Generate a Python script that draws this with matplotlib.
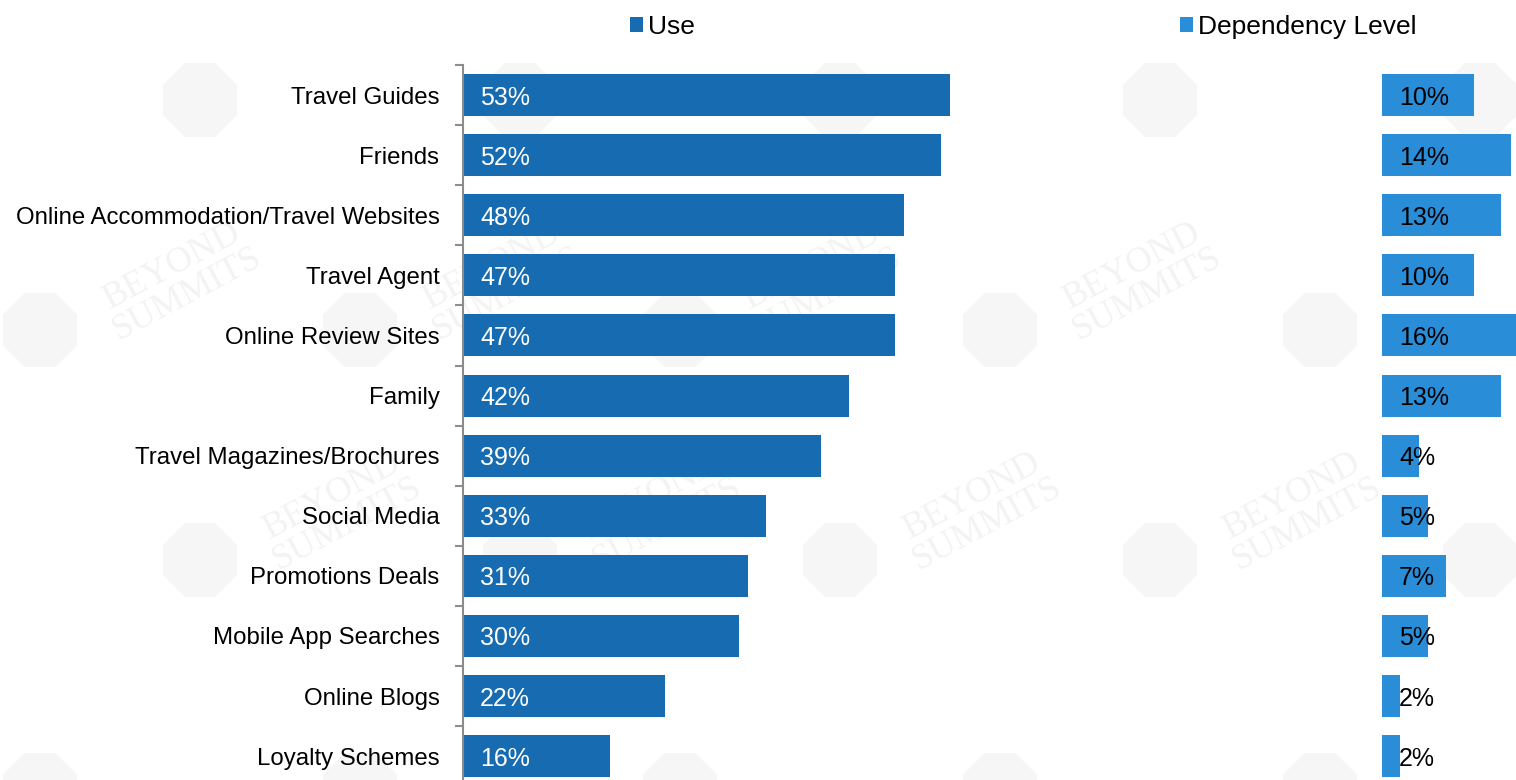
import matplotlib
matplotlib.use("Agg")
import matplotlib.pyplot as plt
from matplotlib.patches import Patch, RegularPolygon
from matplotlib.ticker import FixedLocator
import numpy as np

plt.rcParams['font.family'] = ['Liberation Sans', 'DejaVu Sans']

categories = [
    "Travel Guides", "Friends", "Online Accommodation/Travel Websites",
    "Travel Agent", "Online Review Sites", "Family",
    "Travel Magazines/Brochures", "Social Media", "Promotions Deals",
    "Mobile App Searches", "Online Blogs", "Loyalty Schemes",
]
use_pct = [53, 52, 48, 47, 47, 42, 39, 33, 31, 30, 22, 16]
dependency_pct = [10, 14, 13, 10, 16, 13, 4, 5, 7, 5, 2, 2]
series_names = ["Use", "Dependency Level"]

USE_COLOR = "#176BB1"
DEP_COLOR = "#2A8DD8"
DEP_OFFSET = 100  # dependency bars start after the full 0-100 span of "Use"

W, H = 1516, 780
fig = plt.figure(figsize=(W / 100, H / 100), dpi=100)
fig.patch.set_facecolor("white")

# faint tiled brand watermark in the background
wm = fig.add_axes([0, 0, 1, 1], zorder=0)
wm.set_xlim(0, W)
wm.set_ylim(H, 0)
wm.axis("off")
for row, yy in enumerate(range(60, H, 230)):
    shift = (row % 2) * 160
    for xx in range(-120 + shift, W + 200, 320):
        wm.add_patch(RegularPolygon((xx, yy + 40), numVertices=8, radius=40,
                                    orientation=np.pi / 8,
                                    facecolor="#F6F6F6", edgecolor="none"))
        tx, ty = xx + 140, yy - 10
        if 110 < tx < W - 110 and 90 < ty < H - 90:
            wm.text(tx, ty, "BEYOND\nSUMMITS", rotation=28,
                    fontsize=26, family="Liberation Serif", color="#F3F3F3",
                    ha="center", va="center", linespacing=0.95)

n = len(categories)
y = np.arange(n)
ax_left = 463 / W
ax_top = 65
row_px = 60.1
ax_h = n * row_px
px_per_pct = 9.19
ax = fig.add_axes([ax_left, (H - ax_top - ax_h) / H, 1 - ax_left, ax_h / H], zorder=1)
ax.patch.set_alpha(0)

ax.barh(y, use_pct, height=0.7, color=USE_COLOR, label=series_names[0])
ax.barh(y, dependency_pct, left=DEP_OFFSET, height=0.7, color=DEP_COLOR,
        label=series_names[1])

ax.set_xlim(0, (W - 463) / px_per_pct)
ax.set_ylim(n - 0.5, -0.5)

label_dx = 17 / px_per_pct
for i, (u, d) in enumerate(zip(use_pct, dependency_pct)):
    ax.text(label_dx, i, f"{u}%", color="white", fontsize=18,
            va="center_baseline", ha="left")
    ax.text(DEP_OFFSET + label_dx, i, f"{d}%", color="black", fontsize=18,
            va="center_baseline", ha="left")

ax.set_yticks(y)
ax.set_yticklabels(categories, fontsize=17.3)
ax.tick_params(axis="y", which="major", length=0, pad=17)
ax.yaxis.set_minor_locator(FixedLocator(np.arange(-0.5, n, 1.0)))
ax.tick_params(axis="y", which="minor", length=6, width=1.5, color="#8C8C8C",
               direction="out")
ax.set_xticks([])
for side in ("top", "right", "bottom"):
    ax.spines[side].set_visible(False)
ax.spines["left"].set_color("#8C8C8C")
ax.spines["left"].set_linewidth(1.5)

handles = [Patch(facecolor=USE_COLOR), Patch(facecolor=DEP_COLOR)]
for h, name, xpx in zip(handles, series_names, [630, 1180]):
    fig.legend([h], [name], loc="center left",
               bbox_to_anchor=(xpx / W, 1 - 27 / H), frameon=False,
               fontsize=19, handlelength=0.5, handleheight=0.5,
               handletextpad=0.2, borderpad=0, borderaxespad=0)

fig.savefig("out.png", dpi=100, facecolor="white")
